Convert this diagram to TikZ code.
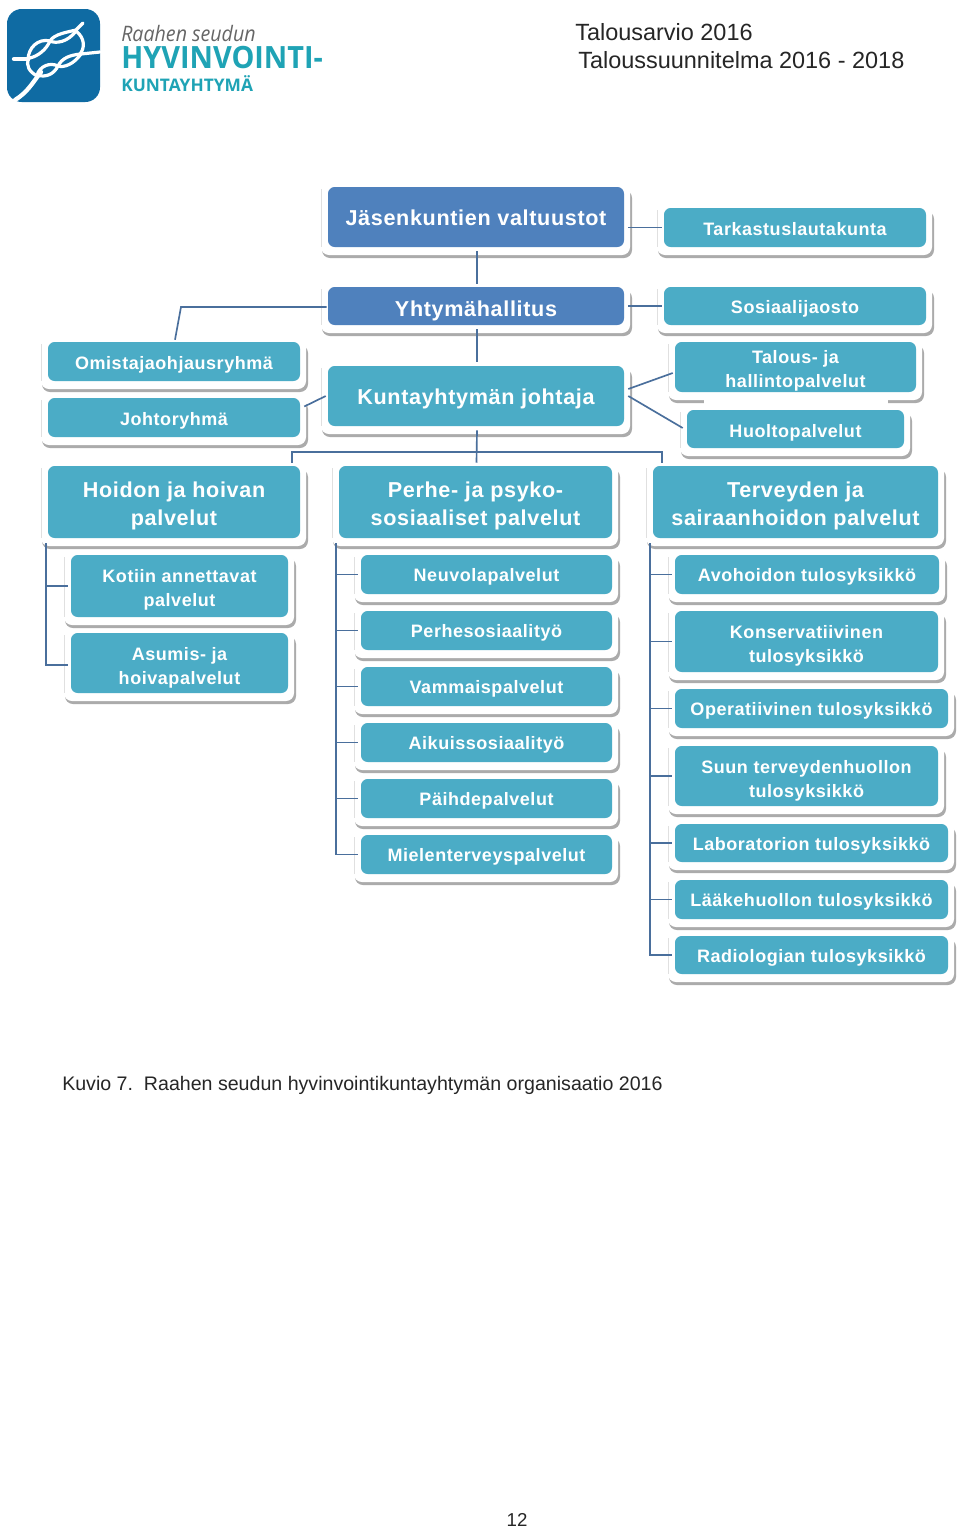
\documentclass[tikz,border=0pt]{standalone}
\usepackage{fontspec}
\setmainfont{Liberation Sans}
\newfontfamily\boxfont[LetterSpace=3]{Liberation Sans Bold}
\newfontfamily\logofont{Open Sans}
\usetikzlibrary{calc}
\definecolor{dkblue}{HTML}{4F81BD}
\definecolor{teal1}{HTML}{4BACC6}
\definecolor{linec}{HTML}{4A6F9C}
\definecolor{logob}{HTML}{0F6BA3}
\definecolor{logot}{HTML}{1FA3B5}
\newlength\mybl
\tikzset{
  x=0.75pt,y=-0.75pt,
  conn/.style={draw=linec,line width=1.25pt},
  boxlabel/.style={text=white,inner sep=0pt,rounded corners=5pt},
  plain/.style={text=black!85,anchor=west,inner sep=0pt},
  logotext/.style={anchor=west,inner sep=0pt},
  rope/.style={draw=white,line width=2.4pt,line cap=round},
  thickrope/.style={draw=white,line width=3.2pt,line cap=round},
}
% \bx{name}{x0}{y0}{x1}{y1}{fill}{font pt size}{text}{text drop in px}
\newcommand{\bx}[9]{%
  \fill[black!33] ({#2-6},{#3+3}) [rounded corners=6pt] rectangle ({#4+8},{#5+11});
  \fill[white] ({#2-7},{#3-2}) [rounded corners=6pt] rectangle ({#4+6},{#5+8});
  \fill[black!12] ({#2-7},{#3+2}) rectangle ({#2-6},{#5});
  \setlength\mybl{#7pt}\setlength\mybl{1.31\mybl}%
  \node[boxlabel,fill=#6,font={\boxfont\fontsize{#7}{\mybl}\selectfont},minimum width={(#4-#2)*0.75pt},minimum height={(#5-#3)*0.75pt}] (#1) at ({(#2+#4)/2},{(#3+#5)/2})
    {\vbox{\kern\dimexpr #9pt*3/4\relax\hbox{\begin{tabular}{@{}c@{}}#8\end{tabular}}\kern-\dimexpr #9pt*3/4\relax}};
}
\begin{document}
\begin{tikzpicture}
\useasboundingbox (0,0) rectangle (960,1528);
\fill[white] (0,0) rectangle (960,1528);
% logo
\fill[logob,rounded corners=11pt] (7,9) rectangle (100,102);
\draw[thickrope] (14,59) -- (28,59);
\draw[rope] (28,60) .. controls (28,48) and (38,38) .. (50,41) .. controls (56,44) and (68,42) .. (76,31);
\draw[rope] (30,58) .. controls (38,56) and (46,50) .. (50,41) .. controls (54,34) and (68,32) .. (76,30) -- (83,23);
\draw[rope] (76,31) .. controls (85,38) and (85,48) .. (80,54);
\draw[rope] (37,75) .. controls (40,66) and (50,62) .. (58,66) .. controls (64,68) and (74,64) .. (81,54);
\draw[rope] (37,75) .. controls (46,78) and (54,74) .. (58,66) .. controls (62,58) and (70,55) .. (81,54) -- (100,52);
\draw[rope] (29,58) .. controls (25,66) and (30,72) .. (37,76);
\draw[thickrope] (41,72) .. controls (33,82) and (28,92) .. (15,100);
\node[logotext,text=black!60,font=\logofont\itshape\fontsize{16}{20}\selectfont] (lg1) at (121,33) {\scalebox{.92}[1]{Raahen seudun}};
\node[logotext,text=logot,font=\logofont\bfseries\fontsize{23}{28}\selectfont] (lg2) at (121,58) {\scalebox{.94}[1]{HYVINVOINTI-}};
\node[logotext,text=logot,font=\logofont\bfseries\fontsize{13}{18}\selectfont] (lg3) at (121,84) {KUNTAYHTYMÄ};
% header
\node[plain,font=\fontsize{17.6}{20}\selectfont] (h1) at (575,32) {Talousarvio 2016};
\node[plain,font=\fontsize{17.6}{20}\selectfont] (h2) at (578,60) {Taloussuunnitelma 2016 - 2018};
% boxes
\bx{jas}{328}{187}{624}{247}{dkblue}{16.2}{Jäsenkuntien valtuustot}{3}
\bx{tar}{664}{208}{926}{247}{teal1}{13.5}{Tarkastuslautakunta}{3}
\bx{yht}{328}{287}{624}{325}{dkblue}{16.2}{Yhtymähallitus}{5}
\bx{sos}{664}{287}{926}{325}{teal1}{13.5}{Sosiaalijaosto}{3}
\bx{tal}{675}{342}{916}{392}{teal1}{13.5}{Talous- ja\\hallintopalvelut}{4}
\fill[white] (704,396) rectangle (888,406);
\bx{huo}{687}{410}{904}{448}{teal1}{13.5}{Huoltopalvelut}{4}
\bx{omi}{48}{342}{300}{381}{teal1}{13.5}{Omistajaohjausryhmä}{3}
\bx{joh}{48}{398}{300}{437}{teal1}{13.5}{Johtoryhmä}{3}
\bx{kun}{328}{366}{624}{426}{teal1}{16.2}{Kuntayhtymän johtaja}{3}
\bx{hoi}{48}{466}{300}{538}{teal1}{16.2}{Hoidon ja hoivan\\palvelut}{4}
\bx{per}{339}{466}{612}{538}{teal1}{16.2}{Perhe- ja psyko-\\sosiaaliset palvelut}{4}
\bx{ter}{653}{466}{938}{538}{teal1}{16.2}{Terveyden ja\\sairaanhoidon palvelut}{4}
\bx{kot}{71}{555}{288}{617}{teal1}{13.5}{Kotiin annettavat\\palvelut}{4}
\bx{asu}{71}{633}{288}{693}{teal1}{13.5}{Asumis- ja\\hoivapalvelut}{5}
\bx{neu}{361}{555}{612}{594}{teal1}{13.5}{Neuvolapalvelut}{2}
\bx{pso}{361}{611}{612}{650}{teal1}{13.5}{Perhesosiaalityö}{2}
\bx{vam}{361}{667}{612}{706}{teal1}{13.5}{Vammaispalvelut}{2}
\bx{aik}{361}{723}{612}{762}{teal1}{13.5}{Aikuissosiaalityö}{2}
\bx{pai}{361}{779}{612}{818}{teal1}{13.5}{Päihdepalvelut}{2}
\bx{mie}{361}{835}{612}{874}{teal1}{13.5}{Mielenterveyspalvelut}{2}
\bx{avo}{675}{555}{939}{594}{teal1}{13.5}{Avohoidon tulosyksikkö}{2}
\bx{kon}{675}{611}{938}{672}{teal1}{13.5}{Konservatiivinen\\tulosyksikkö}{4}
\bx{ope}{675}{689}{948}{728}{teal1}{13.5}{Operatiivinen tulosyksikkö}{2}
\bx{suu}{675}{746}{938}{806}{teal1}{13.5}{Suun terveydenhuollon\\tulosyksikkö}{5}
\bx{lab}{675}{824}{948}{862}{teal1}{13.5}{Laboratorion tulosyksikkö}{3}
\bx{laa}{675}{880}{948}{919}{teal1}{13.5}{Lääkehuollon tulosyksikkö}{2}
\bx{rad}{675}{936}{948}{974}{teal1}{13.5}{Radiologian tulosyksikkö}{3}
% connectors
\draw[conn] ($(jas.south)+(1,4)$) -- ($(yht.north)+(1,-3)$);
\draw[conn] ($(yht.south)+(1,4)$) -- ($(kun.north)+(1,-4)$);
\draw[conn] ($(kun.south)+(1,4)$) -- ($(per.north)+(1,-3)$);
\draw[conn] ($(jas.east |- tar.west)+(4,0)$) -- ($(tar.west)+(-2,0)$);
\draw[conn] ($(yht.east)+(4,0)$) -- ($(sos.west)+(-2,0)$);
\draw[conn] ($(yht.west)+(-1,1)$) -- ($(omi.north |- yht.west)+(7,1)$) -- ($(omi.north)+(1,-2)$);
\draw[conn] ($(kun.west)+(-2,0)$) -- ($(joh.east)+(4,-11)$);
\draw[conn] ($(kun.east)+(4,-7)$) -- ($(tal.west)+(-2,6)$);
\draw[conn] ($(kun.east)+(4,0)$) -- ($(huo.west)+(-4,-1)$);
\draw[conn] ($(hoi.north east)+(-8,-3)$) -- ($(hoi.north east)+(-8,-14)$) -- ($(ter.north west)+(9,-14)$) -- ($(ter.north west)+(9,-3)$);
\draw[conn] ($(hoi.south west)+(-2,5)$) |- ($(kot.west)+(-3,0)$);
\draw[conn] ($(hoi.south west)+(-2,5)$) |- ($(asu.west)+(-3,2)$);
\foreach \n in {neu,pso,vam,aik,pai,mie}
  \draw[conn] ($(per.south west)+(-3,5)$) |- ($(\n.west)+(-3,0)$);
\foreach \n in {avo,kon,ope,suu,lab,laa,rad}
  \draw[conn] ($(ter.south west)+(-3,5)$) |- ($(\n.west)+(-3,0)$);
% caption & page
\node[plain,font=\fontsize{14.7}{18}\selectfont] (cap) at (62,1085.5) {Kuvio 7.\ \ Raahen seudun hyvinvointikuntayhtymän organisaatio 2016};
\node[text=black!85,inner sep=0pt,font=\fontsize{14}{16}\selectfont] (pg) at (517,1520) {12};
\end{tikzpicture}
\end{document}
